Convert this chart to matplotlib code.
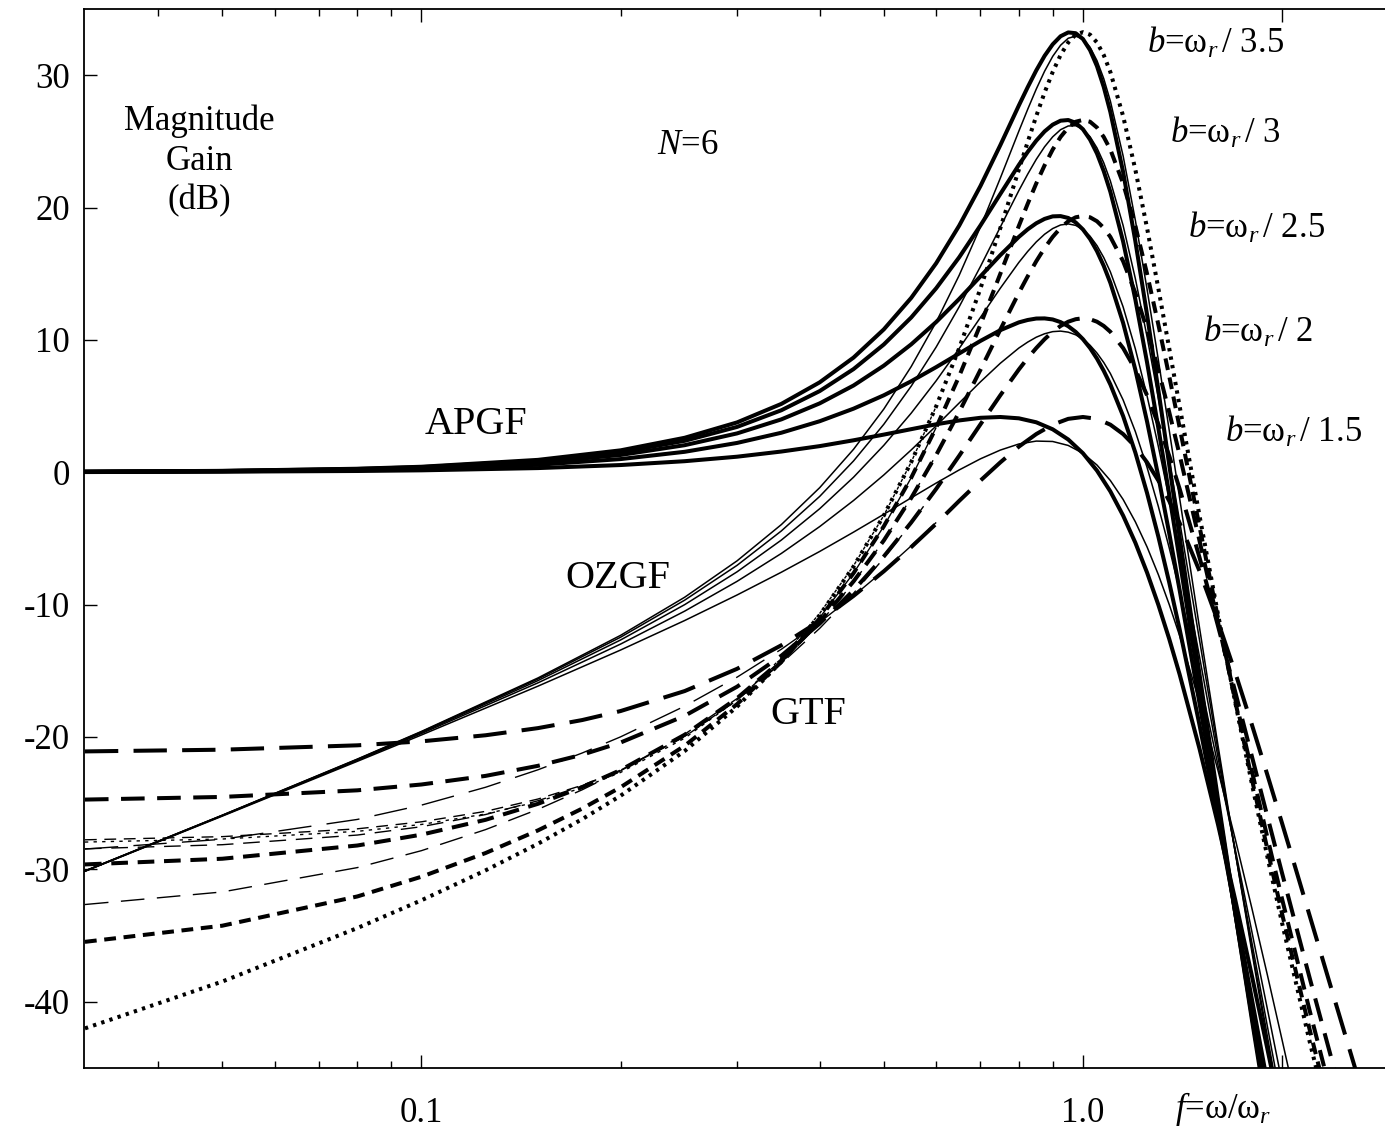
import matplotlib
matplotlib.use('Agg')
import matplotlib.pyplot as plt
from matplotlib.ticker import FixedLocator, FixedFormatter, NullFormatter

plt.rcParams['font.family'] = ['Liberation Serif', 'DejaVu Serif']
plt.rcParams['mathtext.fontset'] = 'custom'
plt.rcParams['mathtext.rm'] = 'Liberation Serif'
plt.rcParams['mathtext.it'] = 'Liberation Serif:italic'
plt.rcParams['lines.scale_dashes'] = False

# ---------------- data ----------------
X_SHARP = [0.031, 0.05, 0.08, 0.1, 0.15, 0.2, 0.25, 0.3, 0.35, 0.4, 0.45, 0.5, 0.55, 0.6,
           0.65, 0.7, 0.75, 0.8, 0.825, 0.85, 0.875, 0.9, 0.925, 0.95, 0.975, 1.0, 1.025,
           1.05, 1.075, 1.1, 1.15, 1.2, 1.25, 1.3, 1.35, 1.4, 1.5, 1.6, 1.7, 1.8, 1.9, 2.0]
X_WIDE = [0.031, 0.05, 0.08, 0.1, 0.15, 0.2, 0.25, 0.3, 0.35, 0.4, 0.45, 0.5, 0.55, 0.6,
          0.65, 0.7, 0.75, 0.8, 0.85, 0.9, 0.95, 1.0, 1.05, 1.1, 1.15, 1.2, 1.25, 1.3, 1.35,
          1.4, 1.5, 1.6, 1.7, 1.8, 1.9, 2.0, 2.1]

APGF_B35 = [0.04, 0.10, 0.26, 0.41, 0.93, 1.65, 2.60, 3.76, 5.16, 6.79, 8.66, 10.79, 13.17, 15.79,
            18.63, 21.63, 24.71, 27.71, 29.09, 30.36, 31.46, 32.33, 32.94, 33.23, 33.17, 32.73, 31.89,
            30.68, 29.11, 27.22, 22.69, 17.46, 11.89, 6.21, 0.58, -4.89, -15.24, -24.72, -33.39, -41.34, -48.66, -55.45]
APGF_B3 = [0.04, 0.09, 0.24, 0.38, 0.85, 1.51, 2.37, 3.42, 4.68, 6.13, 7.79, 9.65, 11.69, 13.90,
           16.24, 18.65, 21.02, 23.22, 24.20, 25.05, 25.75, 26.26, 26.56, 26.61, 26.40, 25.91, 25.13,
           24.08, 22.75, 21.19, 17.43, 13.05, 8.29, 3.34, -1.67, -6.62, -16.18, -25.12, -33.40, -41.08, -48.20, -54.83]
APGF_B25 = [0.03, 0.08, 0.21, 0.33, 0.73, 1.30, 2.04, 2.93, 3.99, 5.20, 6.55, 8.05, 9.66, 11.35,
            13.09, 14.80, 16.40, 17.78, 18.35, 18.81, 19.14, 19.33, 19.35, 19.21, 18.87, 18.34, 17.62,
            16.70, 15.59, 14.31, 11.28, 7.74, 3.82, -0.33, -4.60, -8.91, -17.44, -25.63, -33.37, -40.64, -47.45, -53.85]
APGF_B2 = [0.02, 0.06, 0.16, 0.25, 0.56, 0.99, 1.54, 2.21, 2.98, 3.85, 4.80, 5.81, 6.87, 7.94,
           8.97, 9.92, 10.73, 11.32, 11.50, 11.61, 11.62, 11.54, 11.34, 11.03, 10.60, 10.05, 9.38,
           8.58, 7.66, 6.63, 4.24, 1.48, -1.58, -4.87, -8.32, -11.87, -19.08, -26.23, -33.17, -39.81, -46.14, -52.15]
APGF_B15 = [0.01, 0.04, 0.09, 0.14, 0.31, 0.54, 0.83, 1.17, 1.56, 1.97, 2.41, 2.84, 3.25, 3.62,
            3.91, 4.11, 4.17, 4.07, 3.77, 3.24, 2.47, 1.43, 0.12, -1.45, -3.28, -5.33, -7.59, -10.02,
            -12.59, -15.28, -20.88, -26.62, -32.38, -38.04, -43.57, -48.93, -54.10]

OZGF_B35 = [-30.13, -25.92, -21.68, -19.59, -15.55, -12.33, -9.45, -6.70, -3.96, -1.17, 1.73, 4.77, 7.98, 11.35,
            14.88, 18.54, 22.22, 25.77, 27.42, 28.95, 30.30, 31.42, 32.26, 32.79, 32.95, 32.73, 32.11,
            31.10, 29.74, 28.05, 23.90, 19.04, 13.82, 8.49, 3.19, -1.97, -11.72, -20.64, -28.78, -36.23, -43.09, -49.43]
OZGF_B3 = [-30.14, -25.93, -21.70, -19.62, -15.63, -12.47, -9.67, -7.04, -4.44, -1.83, 0.85, 3.62, 6.50, 9.46,
           12.50, 15.55, 18.52, 21.28, 22.52, 23.64, 24.59, 25.34, 25.88, 26.16, 26.18, 25.91, 25.35,
           24.50, 23.38, 22.01, 18.64, 14.63, 10.23, 5.61, 0.94, -3.70, -12.66, -21.04, -28.80, -35.97, -42.62, -48.81]
OZGF_B25 = [-30.14, -25.94, -21.73, -19.68, -15.75, -12.68, -10.01, -7.53, -5.13, -2.76, -0.38, 2.03, 4.46, 6.91,
            9.35, 11.70, 13.90, 15.85, 16.68, 17.40, 17.98, 18.41, 18.68, 18.76, 18.65, 18.34, 17.83,
            17.12, 16.22, 15.14, 12.49, 9.32, 5.76, 1.95, -1.99, -5.99, -13.92, -21.55, -28.76, -35.53, -41.87, -47.83]
OZGF_B2 = [-30.15, -25.96, -21.78, -19.75, -15.92, -12.99, -10.50, -8.25, -6.14, -4.11, -2.14, -0.21, 1.68, 3.50,
           5.23, 6.83, 8.23, 9.38, 9.83, 10.20, 10.46, 10.62, 10.66, 10.58, 10.38, 10.05, 9.59,
           9.00, 8.29, 7.46, 5.46, 3.07, 0.36, -2.59, -5.71, -8.95, -15.56, -22.15, -28.56, -34.71, -40.56, -46.13]
OZGF_B15 = [-30.16, -25.99, -21.85, -19.86, -16.17, -13.44, -11.21, -9.28, -7.56, -5.99, -4.53, -3.18, -1.94, -0.82,
            0.17, 1.01, 1.67, 2.13, 2.35, 2.32, 2.02, 1.43, 0.54, -0.63, -2.06, -3.75, -5.65, -7.74,
            -9.99, -12.36, -17.36, -22.54, -27.77, -32.94, -37.99, -42.91, -47.65]

X_GTF = [0.031, 0.05, 0.08, 0.1, 0.125, 0.15, 0.175, 0.2, 0.25, 0.3, 0.35, 0.4, 0.45, 0.5, 0.55, 0.6,
         0.65, 0.7, 0.75, 0.8, 0.825, 0.85, 0.875, 0.9, 0.925, 0.95, 0.975, 1.0, 1.025,
         1.05, 1.075, 1.1, 1.15, 1.2, 1.25, 1.3, 1.35, 1.4, 1.5, 1.6, 1.7, 1.8, 1.9, 2.0, 2.2, 2.4, 2.6]
X_GTF_WIDE = [0.031, 0.05, 0.08, 0.1, 0.125, 0.15, 0.175, 0.2, 0.25, 0.3, 0.35, 0.4, 0.45, 0.5, 0.55, 0.6,
              0.65, 0.7, 0.75, 0.8, 0.85, 0.9, 0.95, 1.0, 1.05, 1.1, 1.15, 1.2, 1.25, 1.3, 1.35,
              1.4, 1.5, 1.6, 1.7, 1.8, 1.9, 2.0, 2.1, 2.2, 2.4, 2.6]
X_GTF_LOW = [0.031, 0.05, 0.08, 0.1, 0.125, 0.15, 0.175, 0.2, 0.25, 0.3, 0.35, 0.4, 0.45, 0.5, 0.55, 0.6]

GTF_B35 = [-42.03, -38.49, -34.45, -32.35, -30.09, -28.08, -26.22, -24.45, -21.07, -17.72, -14.32, -10.80, -7.13, -3.27, 0.76, 4.98,
           9.37, 13.89, 18.44, 22.86, 24.95, 26.91, 28.69, 30.24, 31.52, 32.47, 33.06, 33.25, 33.06,
           32.47, 31.52, 30.24, 26.91, 22.86, 18.44, 13.89, 9.37, 4.98, -3.27, -10.74, -17.46, -23.53, -29.05, -34.08,
           -42.97, -50.63, -57.35]
GTF_B3 = [-35.49, -34.27, -32.06, -30.57, -28.78, -27.07, -25.42, -23.81, -20.67, -17.53, -14.34, -11.05, -7.63, -4.09, -0.42, 3.38,
          7.26, 11.16, 14.99, 18.61, 20.28, 21.82, 23.19, 24.38, 25.33, 26.04, 26.48, 26.62, 26.48,
          26.04, 25.33, 24.38, 21.82, 18.61, 14.99, 11.16, 7.26, 3.38, -4.09, -11.02, -17.37, -23.18, -28.49, -33.38,
          -42.07, -49.61, -56.23]
GTF_B25 = [-29.64, -29.21, -28.21, -27.39, -26.27, -25.06, -23.80, -22.51, -19.84, -17.08, -14.23, -11.29, -8.25, -5.16, -1.95, 1.30,
           4.55, 7.74, 10.77, 13.55, 14.80, 15.94, 16.94, 17.78, 18.46, 18.96, 19.26, 19.36, 19.26,
           18.96, 18.46, 17.78, 15.94, 13.55, 10.77, 7.74, 4.55, 1.30, -5.16, -11.35, -17.16, -22.57, -27.60, -32.26,
           -40.64, -47.97, -54.46]
GTF_B2 = [-24.74, -24.54, -24.04, -23.60, -22.95, -22.19, -21.35, -20.43, -18.41, -16.21, -13.87, -11.44, -8.93, -6.37, -3.80, -1.26,
          1.24, 3.62, 5.81, 7.76, 8.62, 9.38, 10.05, 10.61, 11.05, 11.37, 11.56, 11.63, 11.56,
          11.37, 11.05, 10.61, 9.38, 7.76, 5.81, 3.62, 1.24, -1.26, -6.43, -11.62, -16.65, -21.46, -26.01, -30.31,
          -38.17, -45.16, -51.42]
GTF_B15 = [-21.10, -20.97, -20.64, -20.34, -19.88, -19.34, -18.73, -18.05, -16.54, -14.86, -13.08, -11.24, -9.35, -7.49, -5.66, -3.89,
           -2.17, -0.63, 0.74, 1.93, 2.88, 3.59, 4.03, 4.17, 4.03, 3.59, 2.88, 1.93, 0.74, -0.63, -2.17,
           -3.84, -7.46, -11.29, -15.19, -19.07, -22.87, -26.54, -30.08, -33.47, -39.82, -45.63]

GTFS_B35 = [-27.95, -27.72, -27.14, -26.62, -25.83, -24.90, -23.85, -22.69, -20.10, -17.21, -14.05, -10.67, -7.07, -3.27, 0.76, 4.98]
GTFS_B3 = [-27.78, -27.54, -26.95, -26.42, -25.63, -24.70, -23.66, -22.52, -19.99, -17.20, -14.19, -10.99, -7.63, -4.09, -0.42, 3.38]
GTFS_B25 = [-28.46, -28.15, -27.42, -26.79, -25.87, -24.83, -23.70, -22.51, -19.95, -17.23, -14.38, -11.41, -8.34, -5.16, -1.95, 1.30]
GTFS_B2 = [-32.67, -31.72, -29.88, -28.60, -27.01, -25.48, -24.00, -22.57, -19.80, -17.11, -14.45, -11.80, -9.15, -6.50, -3.87, -1.26]
GTFS_B15 = [-28.48, -27.74, -26.24, -25.16, -23.81, -22.49, -21.22, -20.00, -17.68, -15.49, -13.38, -11.34, -9.35, -7.43, -5.57, -3.80]

X_MAJOR = [0.1, 1.0, 2.0]
X_MAJOR_LABELS = ['0.1', '1.0', '']
X_MINOR = [0.04, 0.05, 0.06, 0.07, 0.08, 0.09, 0.2, 0.3, 0.4, 0.5, 0.6, 0.7, 0.8, 0.9]
Y_TICKS = [-40, -30, -20, -10, 0, 10, 20, 30]
B_LABELS = ['3.5', '3', '2.5', '2', '1.5']

# ---------------- figure ----------------
W, H = 1385, 1128
fig = plt.figure(figsize=(W / 100, H / 100), dpi=100)
ax = fig.add_axes([84 / W, 1 - 1067.7 / H, (1398.6 - 84) / W, (1067.7 - 9) / H])
ax.set_xscale('log')
ax.set_xlim(0.0309, 3.0)
ax.set_ylim(-45, 35)

THICK = 2.9
THIN = 1.1
DASHES = {
    '3.5': (2.4, 3.8),
    '3': (8.5, 5.5),
    '2.5': (12.0, 7.0),
    '2': (17.0, 9.0),
    '1.5': (24.0, 11.0),
}

# APGF (thick solid)
for xs, ys in [(X_SHARP, APGF_B35), (X_SHARP, APGF_B3), (X_SHARP, APGF_B25),
               (X_SHARP, APGF_B2), (X_WIDE, APGF_B15)]:
    ax.plot(xs, ys, color='k', lw=THICK, solid_joinstyle='round')

# OZGF (thin solid)
for xs, ys in [(X_SHARP, OZGF_B35), (X_SHARP, OZGF_B3), (X_SHARP, OZGF_B25),
               (X_SHARP, OZGF_B2), (X_WIDE, OZGF_B15)]:
    ax.plot(xs, ys, color='k', lw=THIN)

# GTF (thick dashed / dotted) and its thin companions at low frequency
gtf = [(X_GTF, GTF_B35, GTFS_B35, '3.5'), (X_GTF, GTF_B3, GTFS_B3, '3'),
       (X_GTF, GTF_B25, GTFS_B25, '2.5'), (X_GTF, GTF_B2, GTFS_B2, '2'),
       (X_GTF_WIDE, GTF_B15, GTFS_B15, '1.5')]
for xs, ys, ys_thin, key in gtf:
    ax.plot(xs, ys, color='k', lw=THICK, dashes=DASHES[key], dash_capstyle='butt')
    ax.plot(X_GTF_LOW, ys_thin, color='k', lw=1.0, dashes=DASHES[key], dash_capstyle='butt')

# ticks
ax.xaxis.set_major_locator(FixedLocator(X_MAJOR))
ax.xaxis.set_major_formatter(FixedFormatter(X_MAJOR_LABELS))
ax.xaxis.set_minor_locator(FixedLocator(X_MINOR))
ax.xaxis.set_minor_formatter(NullFormatter())
ax.set_yticks(Y_TICKS)
ax.set_yticklabels([str(v) for v in Y_TICKS])
ax.tick_params(which='both', direction='in', top=True, right=True, width=1.0, labelsize=25)
ax.tick_params(which='major', length=9.5)
ax.tick_params(which='minor', length=5)
ax.tick_params(axis='y', pad=10)
ax.tick_params(axis='x', pad=21)
for sp in ax.spines.values():
    sp.set_linewidth(1.3)


def ftext(px, py, s, **kw):
    fig.text(px / W, 1 - py / H, s, **kw)


ftext(199, 161, 'Magnitude\nGain\n(dB)', fontsize=25, ha='center', va='center',
      multialignment='center', linespacing=1.27)
ftext(688, 145, r'$N$=6', fontsize=25, ha='center', va='center')
ftext(476, 425, 'APGF', fontsize=29, ha='center', va='center')
ftext(618, 578, 'OZGF', fontsize=29, ha='center', va='center')
ftext(808, 715, 'GTF', fontsize=29, ha='center', va='center')

b_x = [1147, 1170, 1188, 1203, 1225]
b_y = [53, 143, 238, 342, 442]
for lab, bx, by in zip(B_LABELS, b_x, b_y):
    ftext(bx, by, r'$b$=$\mathrm{\omega}_r\,$/ ' + lab, fontsize=25, ha='left', va='baseline')

ftext(1175, 1118, r'$f$=ω/$\mathrm{\omega}_r$', fontsize=25, ha='left', va='baseline')

fig.savefig('out.png', dpi=100)
